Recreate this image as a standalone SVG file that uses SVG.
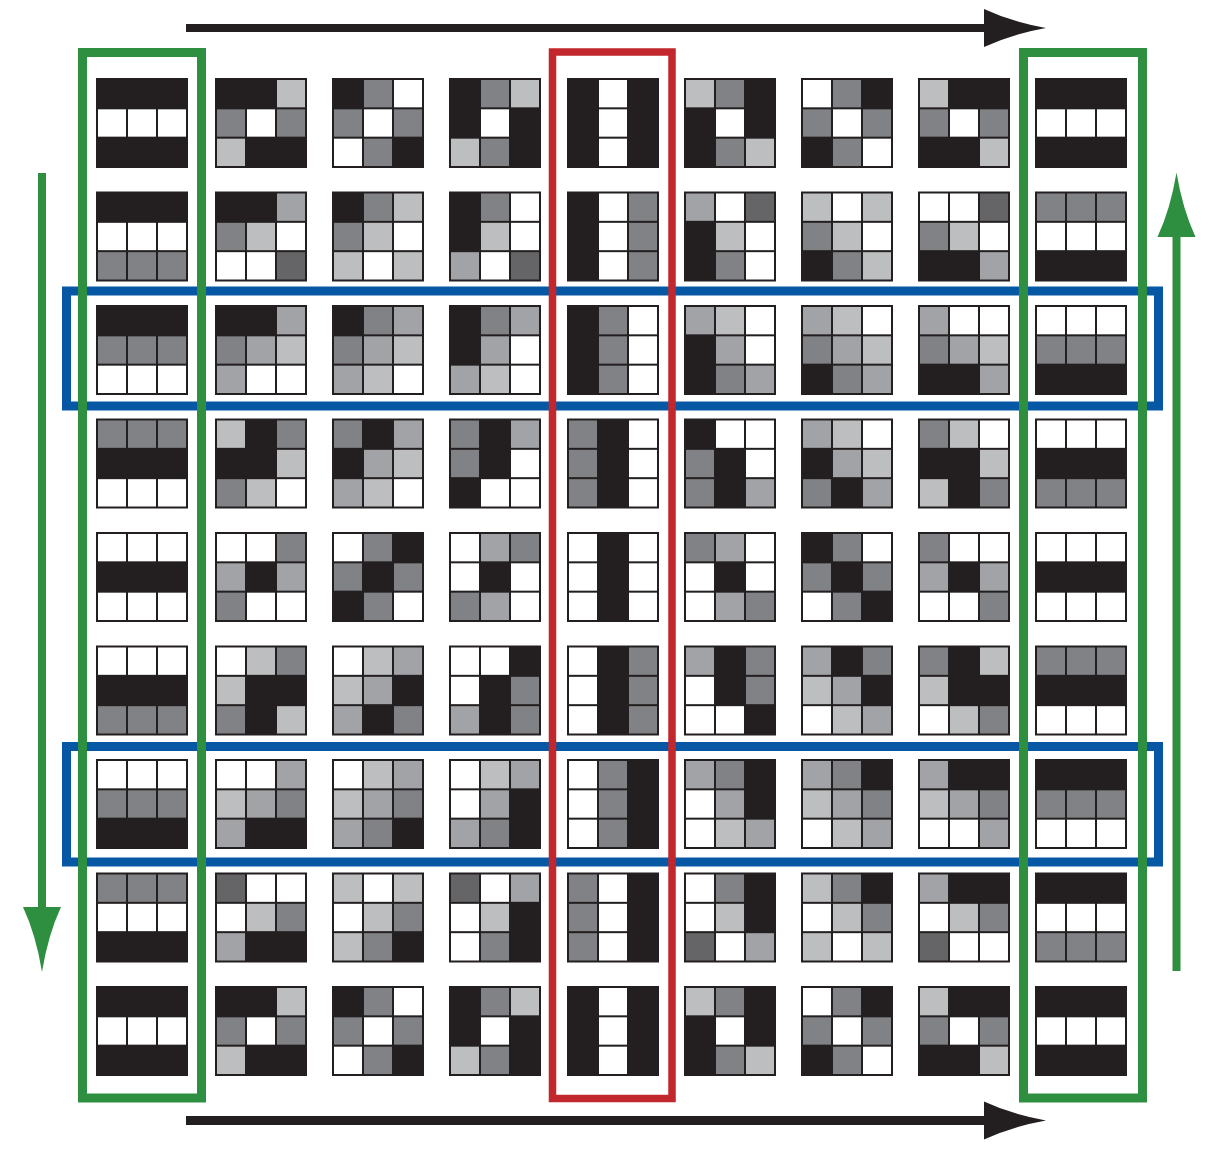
<svg xmlns="http://www.w3.org/2000/svg" width="1220" height="1150" viewBox="0 0 1220 1150">
<style>
.bg{fill:#231f20}.w{fill:#ffffff}.m{fill:#808285}.g{fill:#a1a3a6}.l{fill:#bcbec0}.d{fill:#656567}
.gf{fill:none;stroke:#2e8f41;stroke-width:9}
.rf{fill:none;stroke:#c1272d;stroke-width:7.5}
.bf{fill:none;stroke:#0758a4;stroke-width:9}
.ka{fill:#231f20}.ga{fill:#2e8f41}
</style>
<defs>
<rect id="c" width="28" height="27.33"/>
<rect id="t" class="bg" width="92" height="90"/>
</defs>
<rect width="1220" height="1150" fill="#ffffff"/>
<g id="tiles">
<!-- row 1 -->
<g id="t1-1" transform="translate(96,78)"><use href="#t"/><use href="#c" class="w" x="2" y="31.33"/><use href="#c" class="w" x="32" y="31.33"/><use href="#c" class="w" x="62" y="31.33"/></g>
<g id="t1-2" transform="translate(215,78)"><use href="#t"/><use href="#c" class="l" x="62" y="2"/><use href="#c" class="m" x="2" y="31.33"/><use href="#c" class="w" x="32" y="31.33"/><use href="#c" class="m" x="62" y="31.33"/><use href="#c" class="l" x="2" y="60.67"/></g>
<g id="t1-3" transform="translate(332,78)"><use href="#t"/><use href="#c" class="m" x="32" y="2"/><use href="#c" class="w" x="62" y="2"/><use href="#c" class="m" x="2" y="31.33"/><use href="#c" class="w" x="32" y="31.33"/><use href="#c" class="m" x="62" y="31.33"/><use href="#c" class="w" x="2" y="60.67"/><use href="#c" class="m" x="32" y="60.67"/></g>
<g id="t1-4" transform="translate(449,78)"><use href="#t"/><use href="#c" class="m" x="32" y="2"/><use href="#c" class="l" x="62" y="2"/><use href="#c" class="w" x="32" y="31.33"/><use href="#c" class="l" x="2" y="60.67"/><use href="#c" class="m" x="32" y="60.67"/></g>
<g id="t1-5" transform="translate(567,78)"><use href="#t"/><use href="#c" class="w" x="32" y="2"/><use href="#c" class="w" x="32" y="31.33"/><use href="#c" class="w" x="32" y="60.67"/></g>
<g id="t1-6" transform="translate(684,78)"><use href="#t"/><use href="#c" class="l" x="2" y="2"/><use href="#c" class="m" x="32" y="2"/><use href="#c" class="w" x="32" y="31.33"/><use href="#c" class="m" x="32" y="60.67"/><use href="#c" class="l" x="62" y="60.67"/></g>
<g id="t1-7" transform="translate(801,78)"><use href="#t"/><use href="#c" class="w" x="2" y="2"/><use href="#c" class="m" x="32" y="2"/><use href="#c" class="m" x="2" y="31.33"/><use href="#c" class="w" x="32" y="31.33"/><use href="#c" class="m" x="62" y="31.33"/><use href="#c" class="m" x="32" y="60.67"/><use href="#c" class="w" x="62" y="60.67"/></g>
<g id="t1-8" transform="translate(918,78)"><use href="#t"/><use href="#c" class="l" x="2" y="2"/><use href="#c" class="m" x="2" y="31.33"/><use href="#c" class="w" x="32" y="31.33"/><use href="#c" class="m" x="62" y="31.33"/><use href="#c" class="l" x="62" y="60.67"/></g>
<g id="t1-9" transform="translate(1035,78)"><use href="#t"/><use href="#c" class="w" x="2" y="31.33"/><use href="#c" class="w" x="32" y="31.33"/><use href="#c" class="w" x="62" y="31.33"/></g>
<!-- row 2 -->
<g id="t2-1" transform="translate(96,191.5)"><use href="#t"/><use href="#c" class="w" x="2" y="31.33"/><use href="#c" class="w" x="32" y="31.33"/><use href="#c" class="w" x="62" y="31.33"/><use href="#c" class="m" x="2" y="60.67"/><use href="#c" class="m" x="32" y="60.67"/><use href="#c" class="m" x="62" y="60.67"/></g>
<g id="t2-2" transform="translate(215,191.5)"><use href="#t"/><use href="#c" class="g" x="62" y="2"/><use href="#c" class="m" x="2" y="31.33"/><use href="#c" class="l" x="32" y="31.33"/><use href="#c" class="w" x="62" y="31.33"/><use href="#c" class="w" x="2" y="60.67"/><use href="#c" class="w" x="32" y="60.67"/><use href="#c" class="d" x="62" y="60.67"/></g>
<g id="t2-3" transform="translate(332,191.5)"><use href="#t"/><use href="#c" class="m" x="32" y="2"/><use href="#c" class="l" x="62" y="2"/><use href="#c" class="m" x="2" y="31.33"/><use href="#c" class="l" x="32" y="31.33"/><use href="#c" class="w" x="62" y="31.33"/><use href="#c" class="l" x="2" y="60.67"/><use href="#c" class="w" x="32" y="60.67"/><use href="#c" class="l" x="62" y="60.67"/></g>
<g id="t2-4" transform="translate(449,191.5)"><use href="#t"/><use href="#c" class="m" x="32" y="2"/><use href="#c" class="w" x="62" y="2"/><use href="#c" class="l" x="32" y="31.33"/><use href="#c" class="w" x="62" y="31.33"/><use href="#c" class="g" x="2" y="60.67"/><use href="#c" class="w" x="32" y="60.67"/><use href="#c" class="d" x="62" y="60.67"/></g>
<g id="t2-5" transform="translate(567,191.5)"><use href="#t"/><use href="#c" class="w" x="32" y="2"/><use href="#c" class="m" x="62" y="2"/><use href="#c" class="w" x="32" y="31.33"/><use href="#c" class="m" x="62" y="31.33"/><use href="#c" class="w" x="32" y="60.67"/><use href="#c" class="m" x="62" y="60.67"/></g>
<g id="t2-6" transform="translate(684,191.5)"><use href="#t"/><use href="#c" class="g" x="2" y="2"/><use href="#c" class="w" x="32" y="2"/><use href="#c" class="d" x="62" y="2"/><use href="#c" class="l" x="32" y="31.33"/><use href="#c" class="w" x="62" y="31.33"/><use href="#c" class="m" x="32" y="60.67"/><use href="#c" class="w" x="62" y="60.67"/></g>
<g id="t2-7" transform="translate(801,191.5)"><use href="#t"/><use href="#c" class="l" x="2" y="2"/><use href="#c" class="w" x="32" y="2"/><use href="#c" class="l" x="62" y="2"/><use href="#c" class="m" x="2" y="31.33"/><use href="#c" class="l" x="32" y="31.33"/><use href="#c" class="w" x="62" y="31.33"/><use href="#c" class="m" x="32" y="60.67"/><use href="#c" class="l" x="62" y="60.67"/></g>
<g id="t2-8" transform="translate(918,191.5)"><use href="#t"/><use href="#c" class="w" x="2" y="2"/><use href="#c" class="w" x="32" y="2"/><use href="#c" class="d" x="62" y="2"/><use href="#c" class="m" x="2" y="31.33"/><use href="#c" class="l" x="32" y="31.33"/><use href="#c" class="w" x="62" y="31.33"/><use href="#c" class="g" x="62" y="60.67"/></g>
<g id="t2-9" transform="translate(1035,191.5)"><use href="#t"/><use href="#c" class="m" x="2" y="2"/><use href="#c" class="m" x="32" y="2"/><use href="#c" class="m" x="62" y="2"/><use href="#c" class="w" x="2" y="31.33"/><use href="#c" class="w" x="32" y="31.33"/><use href="#c" class="w" x="62" y="31.33"/></g>
<!-- row 3 -->
<g id="t3-1" transform="translate(96,305)"><use href="#t"/><use href="#c" class="m" x="2" y="31.33"/><use href="#c" class="m" x="32" y="31.33"/><use href="#c" class="m" x="62" y="31.33"/><use href="#c" class="w" x="2" y="60.67"/><use href="#c" class="w" x="32" y="60.67"/><use href="#c" class="w" x="62" y="60.67"/></g>
<g id="t3-2" transform="translate(215,305)"><use href="#t"/><use href="#c" class="g" x="62" y="2"/><use href="#c" class="m" x="2" y="31.33"/><use href="#c" class="g" x="32" y="31.33"/><use href="#c" class="l" x="62" y="31.33"/><use href="#c" class="g" x="2" y="60.67"/><use href="#c" class="w" x="32" y="60.67"/><use href="#c" class="w" x="62" y="60.67"/></g>
<g id="t3-3" transform="translate(332,305)"><use href="#t"/><use href="#c" class="m" x="32" y="2"/><use href="#c" class="g" x="62" y="2"/><use href="#c" class="m" x="2" y="31.33"/><use href="#c" class="g" x="32" y="31.33"/><use href="#c" class="l" x="62" y="31.33"/><use href="#c" class="g" x="2" y="60.67"/><use href="#c" class="l" x="32" y="60.67"/><use href="#c" class="w" x="62" y="60.67"/></g>
<g id="t3-4" transform="translate(449,305)"><use href="#t"/><use href="#c" class="m" x="32" y="2"/><use href="#c" class="g" x="62" y="2"/><use href="#c" class="g" x="32" y="31.33"/><use href="#c" class="w" x="62" y="31.33"/><use href="#c" class="g" x="2" y="60.67"/><use href="#c" class="l" x="32" y="60.67"/><use href="#c" class="w" x="62" y="60.67"/></g>
<g id="t3-5" transform="translate(567,305)"><use href="#t"/><use href="#c" class="m" x="32" y="2"/><use href="#c" class="w" x="62" y="2"/><use href="#c" class="m" x="32" y="31.33"/><use href="#c" class="w" x="62" y="31.33"/><use href="#c" class="m" x="32" y="60.67"/><use href="#c" class="w" x="62" y="60.67"/></g>
<g id="t3-6" transform="translate(684,305)"><use href="#t"/><use href="#c" class="g" x="2" y="2"/><use href="#c" class="l" x="32" y="2"/><use href="#c" class="w" x="62" y="2"/><use href="#c" class="g" x="32" y="31.33"/><use href="#c" class="w" x="62" y="31.33"/><use href="#c" class="m" x="32" y="60.67"/><use href="#c" class="g" x="62" y="60.67"/></g>
<g id="t3-7" transform="translate(801,305)"><use href="#t"/><use href="#c" class="g" x="2" y="2"/><use href="#c" class="l" x="32" y="2"/><use href="#c" class="w" x="62" y="2"/><use href="#c" class="m" x="2" y="31.33"/><use href="#c" class="g" x="32" y="31.33"/><use href="#c" class="l" x="62" y="31.33"/><use href="#c" class="m" x="32" y="60.67"/><use href="#c" class="g" x="62" y="60.67"/></g>
<g id="t3-8" transform="translate(918,305)"><use href="#t"/><use href="#c" class="g" x="2" y="2"/><use href="#c" class="w" x="32" y="2"/><use href="#c" class="w" x="62" y="2"/><use href="#c" class="m" x="2" y="31.33"/><use href="#c" class="g" x="32" y="31.33"/><use href="#c" class="l" x="62" y="31.33"/><use href="#c" class="g" x="62" y="60.67"/></g>
<g id="t3-9" transform="translate(1035,305)"><use href="#t"/><use href="#c" class="w" x="2" y="2"/><use href="#c" class="w" x="32" y="2"/><use href="#c" class="w" x="62" y="2"/><use href="#c" class="m" x="2" y="31.33"/><use href="#c" class="m" x="32" y="31.33"/><use href="#c" class="m" x="62" y="31.33"/></g>
<!-- row 4 -->
<g id="t4-1" transform="translate(96,418.5)"><use href="#t"/><use href="#c" class="m" x="2" y="2"/><use href="#c" class="m" x="32" y="2"/><use href="#c" class="m" x="62" y="2"/><use href="#c" class="w" x="2" y="60.67"/><use href="#c" class="w" x="32" y="60.67"/><use href="#c" class="w" x="62" y="60.67"/></g>
<g id="t4-2" transform="translate(215,418.5)"><use href="#t"/><use href="#c" class="l" x="2" y="2"/><use href="#c" class="m" x="62" y="2"/><use href="#c" class="l" x="62" y="31.33"/><use href="#c" class="m" x="2" y="60.67"/><use href="#c" class="l" x="32" y="60.67"/><use href="#c" class="w" x="62" y="60.67"/></g>
<g id="t4-3" transform="translate(332,418.5)"><use href="#t"/><use href="#c" class="m" x="2" y="2"/><use href="#c" class="g" x="62" y="2"/><use href="#c" class="g" x="32" y="31.33"/><use href="#c" class="l" x="62" y="31.33"/><use href="#c" class="g" x="2" y="60.67"/><use href="#c" class="l" x="32" y="60.67"/><use href="#c" class="w" x="62" y="60.67"/></g>
<g id="t4-4" transform="translate(449,418.5)"><use href="#t"/><use href="#c" class="m" x="2" y="2"/><use href="#c" class="g" x="62" y="2"/><use href="#c" class="m" x="2" y="31.33"/><use href="#c" class="w" x="62" y="31.33"/><use href="#c" class="w" x="32" y="60.67"/><use href="#c" class="w" x="62" y="60.67"/></g>
<g id="t4-5" transform="translate(567,418.5)"><use href="#t"/><use href="#c" class="m" x="2" y="2"/><use href="#c" class="w" x="62" y="2"/><use href="#c" class="m" x="2" y="31.33"/><use href="#c" class="w" x="62" y="31.33"/><use href="#c" class="m" x="2" y="60.67"/><use href="#c" class="w" x="62" y="60.67"/></g>
<g id="t4-6" transform="translate(684,418.5)"><use href="#t"/><use href="#c" class="w" x="32" y="2"/><use href="#c" class="w" x="62" y="2"/><use href="#c" class="m" x="2" y="31.33"/><use href="#c" class="w" x="62" y="31.33"/><use href="#c" class="m" x="2" y="60.67"/><use href="#c" class="g" x="62" y="60.67"/></g>
<g id="t4-7" transform="translate(801,418.5)"><use href="#t"/><use href="#c" class="g" x="2" y="2"/><use href="#c" class="l" x="32" y="2"/><use href="#c" class="w" x="62" y="2"/><use href="#c" class="g" x="32" y="31.33"/><use href="#c" class="l" x="62" y="31.33"/><use href="#c" class="m" x="2" y="60.67"/><use href="#c" class="g" x="62" y="60.67"/></g>
<g id="t4-8" transform="translate(918,418.5)"><use href="#t"/><use href="#c" class="m" x="2" y="2"/><use href="#c" class="l" x="32" y="2"/><use href="#c" class="w" x="62" y="2"/><use href="#c" class="l" x="62" y="31.33"/><use href="#c" class="l" x="2" y="60.67"/><use href="#c" class="m" x="62" y="60.67"/></g>
<g id="t4-9" transform="translate(1035,418.5)"><use href="#t"/><use href="#c" class="w" x="2" y="2"/><use href="#c" class="w" x="32" y="2"/><use href="#c" class="w" x="62" y="2"/><use href="#c" class="m" x="2" y="60.67"/><use href="#c" class="m" x="32" y="60.67"/><use href="#c" class="m" x="62" y="60.67"/></g>
<!-- row 5 -->
<g id="t5-1" transform="translate(96,532)"><use href="#t"/><use href="#c" class="w" x="2" y="2"/><use href="#c" class="w" x="32" y="2"/><use href="#c" class="w" x="62" y="2"/><use href="#c" class="w" x="2" y="60.67"/><use href="#c" class="w" x="32" y="60.67"/><use href="#c" class="w" x="62" y="60.67"/></g>
<g id="t5-2" transform="translate(215,532)"><use href="#t"/><use href="#c" class="w" x="2" y="2"/><use href="#c" class="w" x="32" y="2"/><use href="#c" class="m" x="62" y="2"/><use href="#c" class="g" x="2" y="31.33"/><use href="#c" class="g" x="62" y="31.33"/><use href="#c" class="m" x="2" y="60.67"/><use href="#c" class="w" x="32" y="60.67"/><use href="#c" class="w" x="62" y="60.67"/></g>
<g id="t5-3" transform="translate(332,532)"><use href="#t"/><use href="#c" class="w" x="2" y="2"/><use href="#c" class="m" x="32" y="2"/><use href="#c" class="m" x="2" y="31.33"/><use href="#c" class="m" x="62" y="31.33"/><use href="#c" class="m" x="32" y="60.67"/><use href="#c" class="w" x="62" y="60.67"/></g>
<g id="t5-4" transform="translate(449,532)"><use href="#t"/><use href="#c" class="w" x="2" y="2"/><use href="#c" class="g" x="32" y="2"/><use href="#c" class="m" x="62" y="2"/><use href="#c" class="w" x="2" y="31.33"/><use href="#c" class="w" x="62" y="31.33"/><use href="#c" class="m" x="2" y="60.67"/><use href="#c" class="g" x="32" y="60.67"/><use href="#c" class="w" x="62" y="60.67"/></g>
<g id="t5-5" transform="translate(567,532)"><use href="#t"/><use href="#c" class="w" x="2" y="2"/><use href="#c" class="w" x="62" y="2"/><use href="#c" class="w" x="2" y="31.33"/><use href="#c" class="w" x="62" y="31.33"/><use href="#c" class="w" x="2" y="60.67"/><use href="#c" class="w" x="62" y="60.67"/></g>
<g id="t5-6" transform="translate(684,532)"><use href="#t"/><use href="#c" class="m" x="2" y="2"/><use href="#c" class="g" x="32" y="2"/><use href="#c" class="w" x="62" y="2"/><use href="#c" class="w" x="2" y="31.33"/><use href="#c" class="w" x="62" y="31.33"/><use href="#c" class="w" x="2" y="60.67"/><use href="#c" class="g" x="32" y="60.67"/><use href="#c" class="m" x="62" y="60.67"/></g>
<g id="t5-7" transform="translate(801,532)"><use href="#t"/><use href="#c" class="m" x="32" y="2"/><use href="#c" class="w" x="62" y="2"/><use href="#c" class="m" x="2" y="31.33"/><use href="#c" class="m" x="62" y="31.33"/><use href="#c" class="w" x="2" y="60.67"/><use href="#c" class="m" x="32" y="60.67"/></g>
<g id="t5-8" transform="translate(918,532)"><use href="#t"/><use href="#c" class="m" x="2" y="2"/><use href="#c" class="w" x="32" y="2"/><use href="#c" class="w" x="62" y="2"/><use href="#c" class="g" x="2" y="31.33"/><use href="#c" class="g" x="62" y="31.33"/><use href="#c" class="w" x="2" y="60.67"/><use href="#c" class="w" x="32" y="60.67"/><use href="#c" class="m" x="62" y="60.67"/></g>
<g id="t5-9" transform="translate(1035,532)"><use href="#t"/><use href="#c" class="w" x="2" y="2"/><use href="#c" class="w" x="32" y="2"/><use href="#c" class="w" x="62" y="2"/><use href="#c" class="w" x="2" y="60.67"/><use href="#c" class="w" x="32" y="60.67"/><use href="#c" class="w" x="62" y="60.67"/></g>
<!-- row 6 -->
<g id="t6-1" transform="translate(96,645.5)"><use href="#t"/><use href="#c" class="w" x="2" y="2"/><use href="#c" class="w" x="32" y="2"/><use href="#c" class="w" x="62" y="2"/><use href="#c" class="m" x="2" y="60.67"/><use href="#c" class="m" x="32" y="60.67"/><use href="#c" class="m" x="62" y="60.67"/></g>
<g id="t6-2" transform="translate(215,645.5)"><use href="#t"/><use href="#c" class="w" x="2" y="2"/><use href="#c" class="l" x="32" y="2"/><use href="#c" class="m" x="62" y="2"/><use href="#c" class="l" x="2" y="31.33"/><use href="#c" class="m" x="2" y="60.67"/><use href="#c" class="l" x="62" y="60.67"/></g>
<g id="t6-3" transform="translate(332,645.5)"><use href="#t"/><use href="#c" class="w" x="2" y="2"/><use href="#c" class="l" x="32" y="2"/><use href="#c" class="g" x="62" y="2"/><use href="#c" class="l" x="2" y="31.33"/><use href="#c" class="g" x="32" y="31.33"/><use href="#c" class="g" x="2" y="60.67"/><use href="#c" class="m" x="62" y="60.67"/></g>
<g id="t6-4" transform="translate(449,645.5)"><use href="#t"/><use href="#c" class="w" x="2" y="2"/><use href="#c" class="w" x="32" y="2"/><use href="#c" class="w" x="2" y="31.33"/><use href="#c" class="m" x="62" y="31.33"/><use href="#c" class="g" x="2" y="60.67"/><use href="#c" class="m" x="62" y="60.67"/></g>
<g id="t6-5" transform="translate(567,645.5)"><use href="#t"/><use href="#c" class="w" x="2" y="2"/><use href="#c" class="m" x="62" y="2"/><use href="#c" class="w" x="2" y="31.33"/><use href="#c" class="m" x="62" y="31.33"/><use href="#c" class="w" x="2" y="60.67"/><use href="#c" class="m" x="62" y="60.67"/></g>
<g id="t6-6" transform="translate(684,645.5)"><use href="#t"/><use href="#c" class="g" x="2" y="2"/><use href="#c" class="m" x="62" y="2"/><use href="#c" class="w" x="2" y="31.33"/><use href="#c" class="m" x="62" y="31.33"/><use href="#c" class="w" x="2" y="60.67"/><use href="#c" class="w" x="32" y="60.67"/></g>
<g id="t6-7" transform="translate(801,645.5)"><use href="#t"/><use href="#c" class="g" x="2" y="2"/><use href="#c" class="m" x="62" y="2"/><use href="#c" class="l" x="2" y="31.33"/><use href="#c" class="g" x="32" y="31.33"/><use href="#c" class="w" x="2" y="60.67"/><use href="#c" class="l" x="32" y="60.67"/><use href="#c" class="g" x="62" y="60.67"/></g>
<g id="t6-8" transform="translate(918,645.5)"><use href="#t"/><use href="#c" class="m" x="2" y="2"/><use href="#c" class="l" x="62" y="2"/><use href="#c" class="l" x="2" y="31.33"/><use href="#c" class="w" x="2" y="60.67"/><use href="#c" class="l" x="32" y="60.67"/><use href="#c" class="m" x="62" y="60.67"/></g>
<g id="t6-9" transform="translate(1035,645.5)"><use href="#t"/><use href="#c" class="m" x="2" y="2"/><use href="#c" class="m" x="32" y="2"/><use href="#c" class="m" x="62" y="2"/><use href="#c" class="w" x="2" y="60.67"/><use href="#c" class="w" x="32" y="60.67"/><use href="#c" class="w" x="62" y="60.67"/></g>
<!-- row 7 -->
<g id="t7-1" transform="translate(96,759)"><use href="#t"/><use href="#c" class="w" x="2" y="2"/><use href="#c" class="w" x="32" y="2"/><use href="#c" class="w" x="62" y="2"/><use href="#c" class="m" x="2" y="31.33"/><use href="#c" class="m" x="32" y="31.33"/><use href="#c" class="m" x="62" y="31.33"/></g>
<g id="t7-2" transform="translate(215,759)"><use href="#t"/><use href="#c" class="w" x="2" y="2"/><use href="#c" class="w" x="32" y="2"/><use href="#c" class="g" x="62" y="2"/><use href="#c" class="l" x="2" y="31.33"/><use href="#c" class="g" x="32" y="31.33"/><use href="#c" class="m" x="62" y="31.33"/><use href="#c" class="g" x="2" y="60.67"/></g>
<g id="t7-3" transform="translate(332,759)"><use href="#t"/><use href="#c" class="w" x="2" y="2"/><use href="#c" class="l" x="32" y="2"/><use href="#c" class="g" x="62" y="2"/><use href="#c" class="l" x="2" y="31.33"/><use href="#c" class="g" x="32" y="31.33"/><use href="#c" class="m" x="62" y="31.33"/><use href="#c" class="g" x="2" y="60.67"/><use href="#c" class="m" x="32" y="60.67"/></g>
<g id="t7-4" transform="translate(449,759)"><use href="#t"/><use href="#c" class="w" x="2" y="2"/><use href="#c" class="l" x="32" y="2"/><use href="#c" class="g" x="62" y="2"/><use href="#c" class="w" x="2" y="31.33"/><use href="#c" class="g" x="32" y="31.33"/><use href="#c" class="g" x="2" y="60.67"/><use href="#c" class="m" x="32" y="60.67"/></g>
<g id="t7-5" transform="translate(567,759)"><use href="#t"/><use href="#c" class="w" x="2" y="2"/><use href="#c" class="m" x="32" y="2"/><use href="#c" class="w" x="2" y="31.33"/><use href="#c" class="m" x="32" y="31.33"/><use href="#c" class="w" x="2" y="60.67"/><use href="#c" class="m" x="32" y="60.67"/></g>
<g id="t7-6" transform="translate(684,759)"><use href="#t"/><use href="#c" class="g" x="2" y="2"/><use href="#c" class="m" x="32" y="2"/><use href="#c" class="w" x="2" y="31.33"/><use href="#c" class="g" x="32" y="31.33"/><use href="#c" class="w" x="2" y="60.67"/><use href="#c" class="l" x="32" y="60.67"/><use href="#c" class="g" x="62" y="60.67"/></g>
<g id="t7-7" transform="translate(801,759)"><use href="#t"/><use href="#c" class="g" x="2" y="2"/><use href="#c" class="m" x="32" y="2"/><use href="#c" class="l" x="2" y="31.33"/><use href="#c" class="g" x="32" y="31.33"/><use href="#c" class="m" x="62" y="31.33"/><use href="#c" class="w" x="2" y="60.67"/><use href="#c" class="l" x="32" y="60.67"/><use href="#c" class="g" x="62" y="60.67"/></g>
<g id="t7-8" transform="translate(918,759)"><use href="#t"/><use href="#c" class="g" x="2" y="2"/><use href="#c" class="l" x="2" y="31.33"/><use href="#c" class="g" x="32" y="31.33"/><use href="#c" class="m" x="62" y="31.33"/><use href="#c" class="w" x="2" y="60.67"/><use href="#c" class="w" x="32" y="60.67"/><use href="#c" class="g" x="62" y="60.67"/></g>
<g id="t7-9" transform="translate(1035,759)"><use href="#t"/><use href="#c" class="m" x="2" y="31.33"/><use href="#c" class="m" x="32" y="31.33"/><use href="#c" class="m" x="62" y="31.33"/><use href="#c" class="w" x="2" y="60.67"/><use href="#c" class="w" x="32" y="60.67"/><use href="#c" class="w" x="62" y="60.67"/></g>
<!-- row 8 -->
<g id="t8-1" transform="translate(96,872.5)"><use href="#t"/><use href="#c" class="m" x="2" y="2"/><use href="#c" class="m" x="32" y="2"/><use href="#c" class="m" x="62" y="2"/><use href="#c" class="w" x="2" y="31.33"/><use href="#c" class="w" x="32" y="31.33"/><use href="#c" class="w" x="62" y="31.33"/></g>
<g id="t8-2" transform="translate(215,872.5)"><use href="#t"/><use href="#c" class="d" x="2" y="2"/><use href="#c" class="w" x="32" y="2"/><use href="#c" class="w" x="62" y="2"/><use href="#c" class="w" x="2" y="31.33"/><use href="#c" class="l" x="32" y="31.33"/><use href="#c" class="m" x="62" y="31.33"/><use href="#c" class="g" x="2" y="60.67"/></g>
<g id="t8-3" transform="translate(332,872.5)"><use href="#t"/><use href="#c" class="l" x="2" y="2"/><use href="#c" class="w" x="32" y="2"/><use href="#c" class="l" x="62" y="2"/><use href="#c" class="w" x="2" y="31.33"/><use href="#c" class="l" x="32" y="31.33"/><use href="#c" class="m" x="62" y="31.33"/><use href="#c" class="l" x="2" y="60.67"/><use href="#c" class="m" x="32" y="60.67"/></g>
<g id="t8-4" transform="translate(449,872.5)"><use href="#t"/><use href="#c" class="d" x="2" y="2"/><use href="#c" class="w" x="32" y="2"/><use href="#c" class="g" x="62" y="2"/><use href="#c" class="w" x="2" y="31.33"/><use href="#c" class="l" x="32" y="31.33"/><use href="#c" class="w" x="2" y="60.67"/><use href="#c" class="m" x="32" y="60.67"/></g>
<g id="t8-5" transform="translate(567,872.5)"><use href="#t"/><use href="#c" class="m" x="2" y="2"/><use href="#c" class="w" x="32" y="2"/><use href="#c" class="m" x="2" y="31.33"/><use href="#c" class="w" x="32" y="31.33"/><use href="#c" class="m" x="2" y="60.67"/><use href="#c" class="w" x="32" y="60.67"/></g>
<g id="t8-6" transform="translate(684,872.5)"><use href="#t"/><use href="#c" class="w" x="2" y="2"/><use href="#c" class="m" x="32" y="2"/><use href="#c" class="w" x="2" y="31.33"/><use href="#c" class="l" x="32" y="31.33"/><use href="#c" class="d" x="2" y="60.67"/><use href="#c" class="w" x="32" y="60.67"/><use href="#c" class="g" x="62" y="60.67"/></g>
<g id="t8-7" transform="translate(801,872.5)"><use href="#t"/><use href="#c" class="l" x="2" y="2"/><use href="#c" class="m" x="32" y="2"/><use href="#c" class="w" x="2" y="31.33"/><use href="#c" class="l" x="32" y="31.33"/><use href="#c" class="m" x="62" y="31.33"/><use href="#c" class="l" x="2" y="60.67"/><use href="#c" class="w" x="32" y="60.67"/><use href="#c" class="l" x="62" y="60.67"/></g>
<g id="t8-8" transform="translate(918,872.5)"><use href="#t"/><use href="#c" class="g" x="2" y="2"/><use href="#c" class="w" x="2" y="31.33"/><use href="#c" class="l" x="32" y="31.33"/><use href="#c" class="m" x="62" y="31.33"/><use href="#c" class="d" x="2" y="60.67"/><use href="#c" class="w" x="32" y="60.67"/><use href="#c" class="w" x="62" y="60.67"/></g>
<g id="t8-9" transform="translate(1035,872.5)"><use href="#t"/><use href="#c" class="w" x="2" y="31.33"/><use href="#c" class="w" x="32" y="31.33"/><use href="#c" class="w" x="62" y="31.33"/><use href="#c" class="m" x="2" y="60.67"/><use href="#c" class="m" x="32" y="60.67"/><use href="#c" class="m" x="62" y="60.67"/></g>
<!-- row 9 -->
<g id="t9-1" transform="translate(96,986)"><use href="#t"/><use href="#c" class="w" x="2" y="31.33"/><use href="#c" class="w" x="32" y="31.33"/><use href="#c" class="w" x="62" y="31.33"/></g>
<g id="t9-2" transform="translate(215,986)"><use href="#t"/><use href="#c" class="l" x="62" y="2"/><use href="#c" class="m" x="2" y="31.33"/><use href="#c" class="w" x="32" y="31.33"/><use href="#c" class="m" x="62" y="31.33"/><use href="#c" class="l" x="2" y="60.67"/></g>
<g id="t9-3" transform="translate(332,986)"><use href="#t"/><use href="#c" class="m" x="32" y="2"/><use href="#c" class="w" x="62" y="2"/><use href="#c" class="m" x="2" y="31.33"/><use href="#c" class="w" x="32" y="31.33"/><use href="#c" class="m" x="62" y="31.33"/><use href="#c" class="w" x="2" y="60.67"/><use href="#c" class="m" x="32" y="60.67"/></g>
<g id="t9-4" transform="translate(449,986)"><use href="#t"/><use href="#c" class="m" x="32" y="2"/><use href="#c" class="l" x="62" y="2"/><use href="#c" class="w" x="32" y="31.33"/><use href="#c" class="l" x="2" y="60.67"/><use href="#c" class="m" x="32" y="60.67"/></g>
<g id="t9-5" transform="translate(567,986)"><use href="#t"/><use href="#c" class="w" x="32" y="2"/><use href="#c" class="w" x="32" y="31.33"/><use href="#c" class="w" x="32" y="60.67"/></g>
<g id="t9-6" transform="translate(684,986)"><use href="#t"/><use href="#c" class="l" x="2" y="2"/><use href="#c" class="m" x="32" y="2"/><use href="#c" class="w" x="32" y="31.33"/><use href="#c" class="m" x="32" y="60.67"/><use href="#c" class="l" x="62" y="60.67"/></g>
<g id="t9-7" transform="translate(801,986)"><use href="#t"/><use href="#c" class="w" x="2" y="2"/><use href="#c" class="m" x="32" y="2"/><use href="#c" class="m" x="2" y="31.33"/><use href="#c" class="w" x="32" y="31.33"/><use href="#c" class="m" x="62" y="31.33"/><use href="#c" class="m" x="32" y="60.67"/><use href="#c" class="w" x="62" y="60.67"/></g>
<g id="t9-8" transform="translate(918,986)"><use href="#t"/><use href="#c" class="l" x="2" y="2"/><use href="#c" class="m" x="2" y="31.33"/><use href="#c" class="w" x="32" y="31.33"/><use href="#c" class="m" x="62" y="31.33"/><use href="#c" class="l" x="62" y="60.67"/></g>
<g id="t9-9" transform="translate(1035,986)"><use href="#t"/><use href="#c" class="w" x="2" y="31.33"/><use href="#c" class="w" x="32" y="31.33"/><use href="#c" class="w" x="62" y="31.33"/></g>
</g>
<g id="frames">
<rect id="blue-row3" class="bf" x="66.5" y="291" width="1092" height="115"/>
<rect id="blue-row7" class="bf" x="66.5" y="746.5" width="1092" height="115.5"/>
<rect id="red-col5" class="rf" x="552.5" y="52" width="119.5" height="1046.5"/>
<rect id="green-col1" class="gf" x="82.5" y="52.5" width="119" height="1045.5"/>
<rect id="green-col9" class="gf" x="1023.5" y="52.5" width="119" height="1045.5"/>
</g>
<g id="connectors">
<g id="arrow-top"><rect class="ka" x="186" y="24" width="805" height="8"/><path class="ka" d="M984,9 Q1012,22 1046,28 Q1012,34 984,47 Z"/></g>
<g id="arrow-bottom"><rect class="ka" x="186" y="1116" width="805" height="9"/><path class="ka" d="M984,1101.5 Q1012,1114.5 1046,1120.5 Q1012,1126.5 984,1139.5 Z"/></g>
<g id="arrow-left"><rect class="ga" x="38" y="173" width="8" height="740"/><path class="ga" d="M23,907 Q36,935 42,972 Q48,935 61,907 Z"/></g>
<g id="arrow-right"><rect class="ga" x="1172.5" y="231" width="8" height="740"/><path class="ga" d="M1157.5,237 Q1170.5,209 1176.5,172.5 Q1182.5,209 1195.5,237 Z"/></g>
</g>
</svg>
